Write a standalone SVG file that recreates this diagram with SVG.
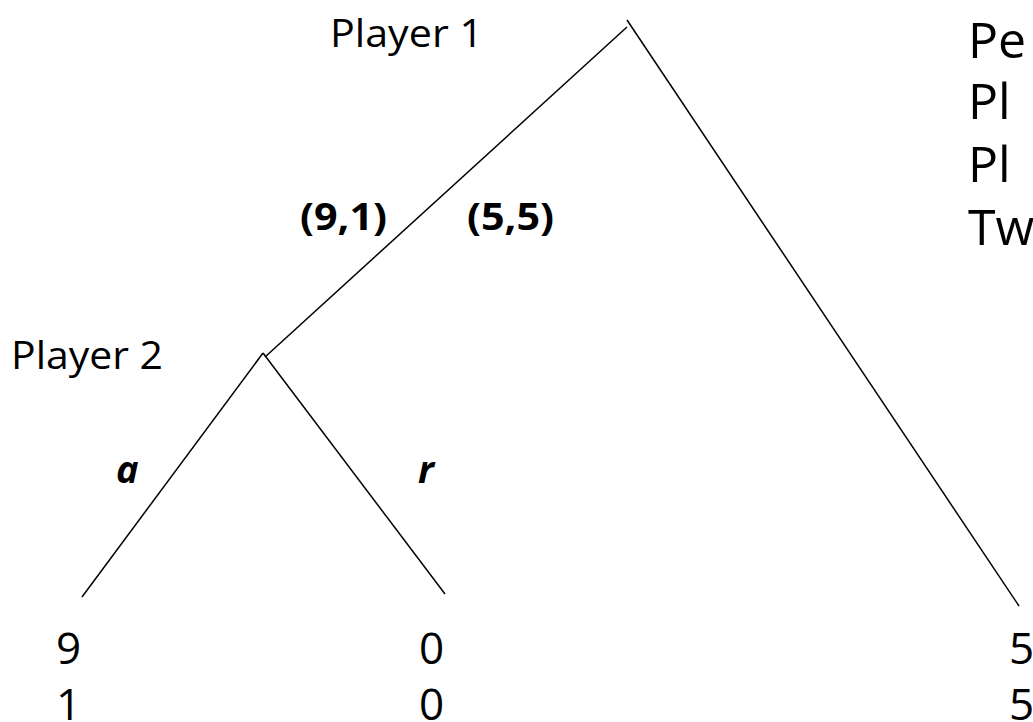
<svg xmlns="http://www.w3.org/2000/svg" width="1033" height="722" viewBox="0 0 1033 722">
<style>
text{font-family:"Open Sans","Liberation Sans",sans-serif;fill:#000}
.lbl{font-size:38px}
.big{font-size:44px}
.side{font-size:50px}
.b{font-weight:bold}
.bi{font-weight:bold;font-style:italic}
line{stroke:#000;stroke-width:1.5;fill:none}
</style>
<rect width="1033" height="722" fill="#fff"/>
<g id="connectors">
<line x1="627" y1="20" x2="1019" y2="606"/>
<line x1="627" y1="27" x2="265" y2="357"/>
<line x1="263" y1="353" x2="82" y2="597"/>
<line x1="263" y1="353" x2="445" y2="594"/>
</g>
<g id="player1"><text class="lbl" x="330" y="47" textLength="153" lengthAdjust="spacingAndGlyphs">Player 1</text></g>
<g id="player2"><text class="lbl" x="11" y="369" textLength="152" lengthAdjust="spacingAndGlyphs">Player 2</text></g>
<g id="edge-labels">
<text class="lbl b" x="300" y="230" textLength="87" lengthAdjust="spacingAndGlyphs">(9,1)</text>
<text class="lbl b" x="467" y="230" textLength="87" lengthAdjust="spacingAndGlyphs">(5,5)</text>
<text class="lbl bi" x="116" y="483">a</text>
<text class="lbl bi" x="418" y="483">r</text>
</g>
<g id="leaf-a"><text class="big" x="56" y="664">9</text><text class="big" x="56" y="720">1</text></g>
<g id="leaf-r"><text class="big" x="419" y="664">0</text><text class="big" x="419" y="720">0</text></g>
<g id="leaf-55"><text class="big" x="1009" y="664">5</text><text class="big" x="1009" y="720">5</text></g>
<g id="side-text">
<text class="side" x="968" y="58">Pe</text>
<text class="side" x="968" y="119">Pl</text>
<text class="side" x="968" y="182">Pl</text>
<text class="side" x="968" y="245">Tw</text>
</g>
</svg>
